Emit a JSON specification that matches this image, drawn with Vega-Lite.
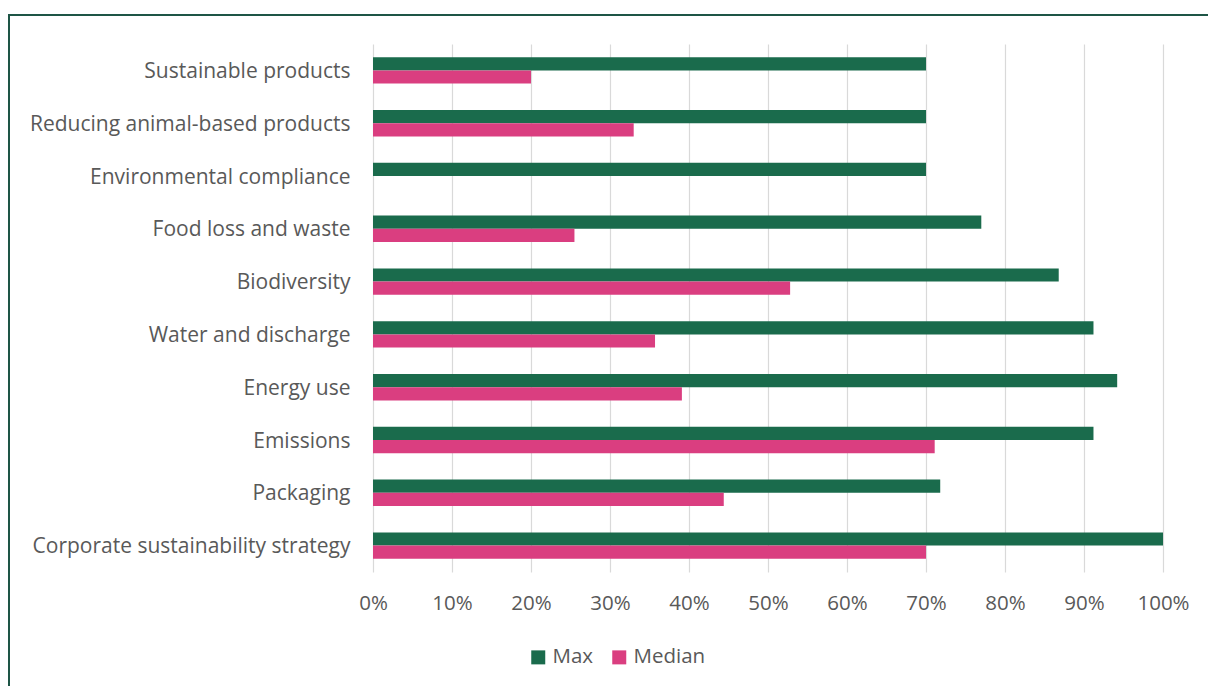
{
  "$schema": "https://vega.github.io/schema/vega-lite/v6.json",
  "width": 1205,
  "height": 680,
  "autosize": "none",
  "padding": {"left": 9, "top": 15, "right": 0, "bottom": 0},
  "background": "white",
  "config": {
    "view": {"stroke": "#1e5546", "strokeWidth": 2},
    "font": "Open Sans"
  },
  "data": {
    "values": [
      {"category": "Sustainable products", "series": "Max", "value": 0.70},
      {"category": "Sustainable products", "series": "Median", "value": 0.20},
      {"category": "Reducing animal-based products ", "series": "Max", "value": 0.70},
      {"category": "Reducing animal-based products ", "series": "Median", "value": 0.33},
      {"category": "Environmental compliance", "series": "Max", "value": 0.70},
      {"category": "Environmental compliance", "series": "Median", "value": 0},
      {"category": "Food loss and waste", "series": "Max", "value": 0.77},
      {"category": "Food loss and waste", "series": "Median", "value": 0.255},
      {"category": "Biodiversity", "series": "Max", "value": 0.868},
      {"category": "Biodiversity", "series": "Median", "value": 0.528},
      {"category": "Water and discharge", "series": "Max", "value": 0.912},
      {"category": "Water and discharge", "series": "Median", "value": 0.357},
      {"category": "Energy use", "series": "Max", "value": 0.942},
      {"category": "Energy use", "series": "Median", "value": 0.391},
      {"category": "Emissions", "series": "Max", "value": 0.912},
      {"category": "Emissions", "series": "Median", "value": 0.711},
      {"category": "Packaging", "series": "Max", "value": 0.718},
      {"category": "Packaging", "series": "Median", "value": 0.444},
      {"category": "Corporate sustainability strategy", "series": "Max", "value": 1.0},
      {"category": "Corporate sustainability strategy", "series": "Median", "value": 0.70}
    ]
  },
  "encoding": {
    "y": {
      "field": "category",
      "type": "nominal",
      "sort": null,
      "scale": {"range": [29, 557], "paddingInner": 0.5, "paddingOuter": 0.25},
      "axis": {
        "title": null,
        "domain": false,
        "ticks": false,
        "tickSize": 0,
        "grid": false,
        "labelFontSize": 21,
        "labelColor": "#595959",
        "labelPadding": 23,
        "labelOffset": 1.5,
        "labelLimit": 500,
        "offset": -364
      }
    },
    "yOffset": {"field": "series", "type": "nominal", "sort": ["Max", "Median"]}
  },
  "layer": [
    {
      "mark": {"type": "bar", "opacity": 0},
      "encoding": {
        "x": {
          "field": "value",
          "type": "quantitative",
          "scale": {"domain": [0, 1], "range": [364, 1154], "nice": false},
          "axis": {
            "orient": "top",
            "title": null,
            "values": [0, 0.1, 0.2, 0.3, 0.4, 0.5, 0.6, 0.7, 0.8, 0.9, 1],
            "grid": true,
            "gridColor": "#d9d9d9",
            "gridWidth": 1.2,
            "domain": false,
            "ticks": false,
            "tickSize": 0,
            "labels": false
          }
        }
      }
    },
    {
      "mark": {"type": "bar"},
      "encoding": {
        "x": {
          "field": "value",
          "type": "quantitative",
          "scale": {"domain": [0, 1], "range": [364, 1154], "nice": false},
          "axis": {
            "orient": "bottom",
            "title": null,
            "format": ".0%",
            "values": [0, 0.1, 0.2, 0.3, 0.4, 0.5, 0.6, 0.7, 0.8, 0.9, 1],
            "grid": false,
            "domain": false,
            "ticks": false,
            "tickSize": 0,
            "labelFlush": false,
            "labelOverlap": false,
            "labelFontSize": 20.5,
            "labelColor": "#595959",
            "labelPadding": 21,
            "offset": -123
          }
        },
        "color": {
          "field": "series",
          "type": "nominal",
          "scale": {"domain": ["Max", "Median"], "range": ["#1a6b4c", "#da3e80"]},
          "legend": {
            "title": null,
            "orient": "none",
            "direction": "horizontal",
            "legendX": 519,
            "legendY": 632,
            "symbolType": "square",
            "symbolSize": 196,
            "symbolStrokeWidth": 0,
            "labelFontSize": 20.5,
            "labelColor": "#595959",
            "labelOffset": 4,
            "columnPadding": 15
          }
        }
      }
    }
  ],
  "resolve": {"axis": {"x": "independent"}}
}
